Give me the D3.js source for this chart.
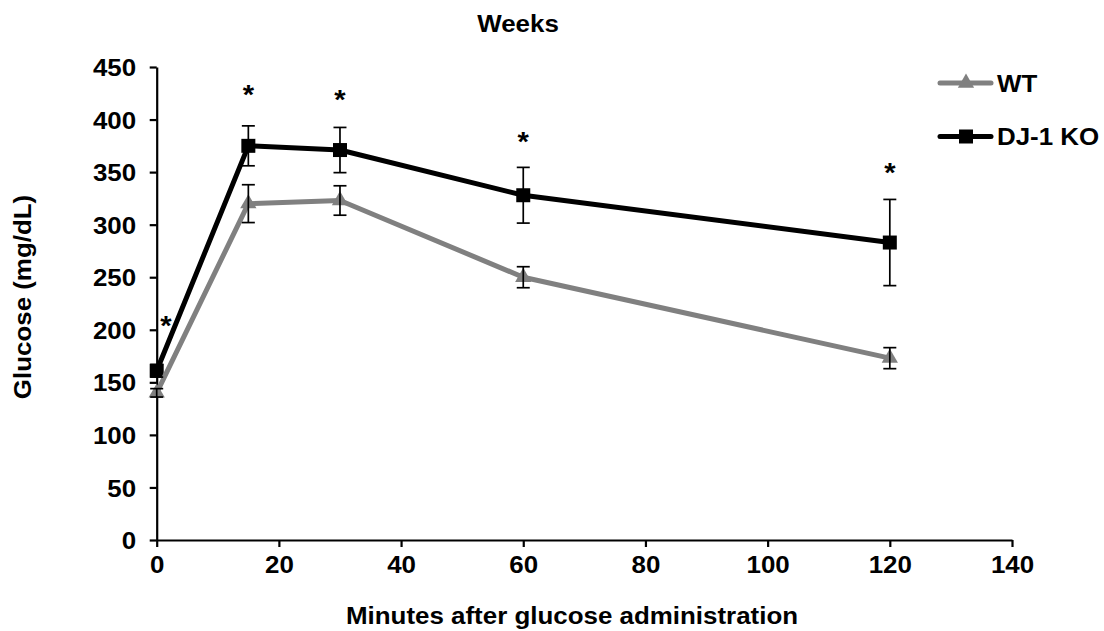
<!DOCTYPE html>
<html>
<head>
<meta charset="utf-8">
<script src="https://cdn.jsdelivr.net/npm/d3@7"></script>
<style>
  html, body { margin: 0; padding: 0; background: #fff; }
  svg text { font-family: "Liberation Sans", Arial, sans-serif; font-weight: bold; fill: #000; }
</style>
</head>
<body>
<svg id="chart" width="1104" height="631"></svg>
<script>
// Oral glucose tolerance test, glucose in mg/dL
const minutes = [0, 15, 30, 60, 120];
const wtMean = [140, 320, 323, 250, 173];
const wtErr = [4, 18, 14, 10, 10];
const koMean = [161, 375, 371, 328, 283];
const koErr = [6, 19, 21.5, 26.5, 41];
// significance markers (minute, glucose level at which the star sits)
const starMinute = [1.5, 15, 30, 60, 120];
const starLevel = [209, 429, 424, 384, 355];
const xTicks = [0, 20, 40, 60, 80, 100, 120, 140];
const yTicks = [0, 50, 100, 150, 200, 250, 300, 350, 400, 450];
const seriesNames = ["WT", "DJ-1 KO"];

const FS = 24;          // font size
const SX = 1.08;        // horizontal text stretch
const svg = d3.select("#chart");

const x = d3.scaleLinear().domain([0, 140]).range([156.7, 1012]);
const y = d3.scaleLinear().domain([0, 450]).range([540, 67]);

// axes
const xAxis = svg.append("g").attr("transform", `translate(0,${y(0)})`)
  .call(d3.axisBottom(x).tickValues(xTicks).tickSize(7).tickSizeOuter(0).tickPadding(9));
const yAxis = svg.append("g").attr("transform", `translate(${x(0)},0)`)
  .call(d3.axisLeft(y).tickValues(yTicks).tickSize(7).tickSizeOuter(0).tickPadding(12));
[xAxis, yAxis].forEach(a => {
  a.select(".domain").attr("stroke", "#000").attr("stroke-width", 2.2);
  a.selectAll(".tick line").attr("stroke", "#000").attr("stroke-width", 2.2);
  a.selectAll(".tick text").style("font-size", FS + "px").attr("fill", "#000");
});
xAxis.selectAll(".tick text").attr("dy", "0.72em").attr("transform", `scale(${SX},1)`);
yAxis.selectAll(".tick text").attr("dy", "0.36em").attr("transform", `scale(${SX},1)`);

function stretchedText(px, py, str, anchor, rotate, size) {
  return svg.append("text")
    .attr("transform", `translate(${px},${py})` + (rotate ? ` rotate(${rotate})` : "") + ` scale(${SX},1)`)
    .attr("text-anchor", anchor)
    .style("font-size", (size || FS) + "px")
    .text(str);
}

// titles
stretchedText(518, 32, "Weeks", "middle");
stretchedText(572, 624, "Minutes after glucose administration", "middle");
stretchedText(31, 297, "Glucose (mg/dL)", "middle", -90);

const line = d3.line().x(d => x(d[0])).y(d => y(d[1]));
const koPts = minutes.map((m, i) => [m, koMean[i]]);
const wtPts = minutes.map((m, i) => [m, wtMean[i]]);

const squareSym = d3.symbol().type(d3.symbolSquare).size(196);
const triSym = d3.symbol().type(d3.symbolTriangle).size(115);

// DJ-1 KO series
svg.append("path").datum(koPts).attr("d", line)
  .attr("fill", "none").attr("stroke", "#000").attr("stroke-width", 5).attr("stroke-linejoin", "round");
svg.selectAll(".ko-pt").data(koPts).join("path").attr("class", "ko-pt")
  .attr("d", squareSym).attr("transform", d => `translate(${x(d[0])},${y(d[1])})`).attr("fill", "#000");

// WT series
svg.append("path").datum(wtPts).attr("d", line)
  .attr("fill", "none").attr("stroke", "#808080").attr("stroke-width", 5).attr("stroke-linejoin", "round");
svg.selectAll(".wt-pt").data(wtPts).join("path").attr("class", "wt-pt")
  .attr("d", triSym).attr("transform", d => `translate(${x(d[0])},${y(d[1])})`).attr("fill", "#808080");

// error bars
function errorBars(means, errs) {
  const g = svg.append("g").attr("stroke", "#000").attr("stroke-width", 1.7);
  minutes.forEach((m, i) => {
    const cx = x(m), top = y(means[i] + errs[i]), bot = y(means[i] - errs[i]);
    g.append("line").attr("x1", cx).attr("x2", cx).attr("y1", top).attr("y2", bot);
    g.append("line").attr("x1", cx - 6.5).attr("x2", cx + 6.5).attr("y1", top).attr("y2", top);
    g.append("line").attr("x1", cx - 6.5).attr("x2", cx + 6.5).attr("y1", bot).attr("y2", bot);
  });
}
errorBars(koMean, koErr);
errorBars(wtMean, wtErr);

// significance stars
const STAR_FS = 27;
starMinute.forEach((m, i) => {
  stretchedText(x(m), y(starLevel[i]) + 0.55 * STAR_FS, "*", "middle", null, STAR_FS);
});

// legend
const legend = svg.append("g");
const legendRows = [
  { name: seriesNames[0], color: "#808080", sym: triSym, cy: 83 },
  { name: seriesNames[1], color: "#000", sym: squareSym, cy: 136.5 }
];
legendRows.forEach(r => {
  legend.append("line").attr("x1", 940).attr("x2", 991).attr("y1", r.cy).attr("y2", r.cy)
    .attr("stroke", r.color).attr("stroke-width", 5).attr("stroke-linecap", "round");
  legend.append("path").attr("d", r.sym).attr("transform", `translate(966,${r.cy})`).attr("fill", r.color);
  stretchedText(997, r.cy + 8.6, r.name, "start");
});
</script>
</body>
</html>
